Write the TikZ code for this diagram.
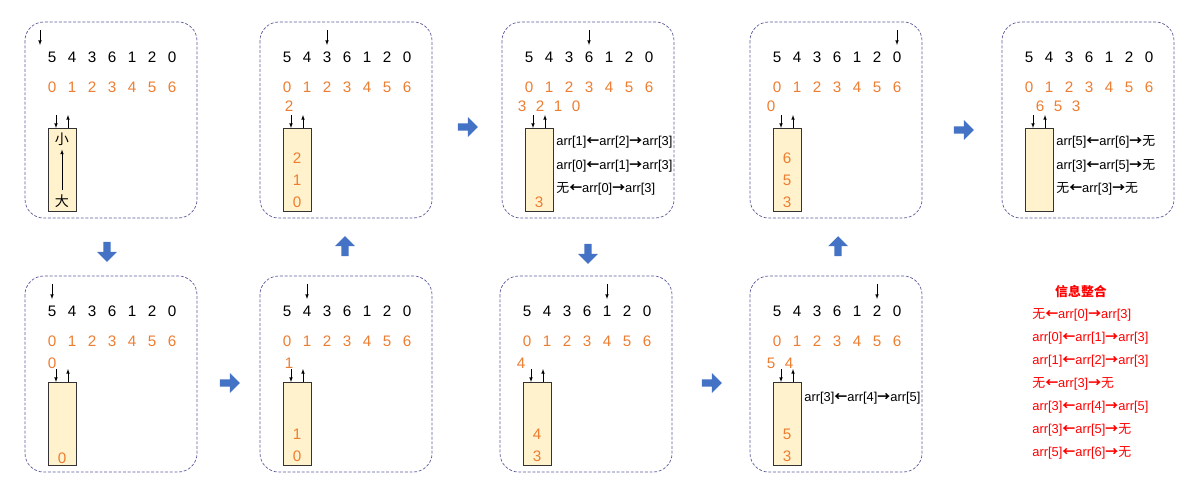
\documentclass[tikz,border=0pt]{standalone}
\usepackage{fontspec}
\setmainfont{Liberation Sans}
\newfontfamily\cjk{Noto Sans CJK SC}
\usetikzlibrary{shapes.arrows}
\definecolor{idxorange}{HTML}{ED7D31}
\definecolor{framegray}{HTML}{5A5A9C}
\definecolor{stackfill}{HTML}{FFF2CC}
\definecolor{stepblue}{HTML}{4472C4}
\newcommand{\la}{{\cjk\bfseries ←}}
\newcommand{\ra}{{\cjk\bfseries →}}
\newcommand{\wu}{{\cjk 无}}
\tikzset{
  frame/.style={draw=framegray, semithick, dash pattern=on 2.5pt off 1.5pt, rounded corners=16pt},
  val/.style={font=\fontsize{13}{15}\selectfont, inner sep=1pt},
  idx/.style={val, text=idxorange},
  stack/.style={draw=black!80, fill=stackfill, minimum width=24pt, minimum height=71pt, anchor=north west, inner sep=0pt},
  info/.style={font=\fontsize{11}{13}\selectfont, anchor=west, inner sep=1pt},
  steparrow/.style={single arrow, fill=stepblue, draw=none, minimum height=17pt, minimum width=17pt,
    single arrow head extend=3pt, inner sep=1.5pt},
  ptr/.style={-latex, thin}
}
% one panel: name, left, top, pointer index
\newcommand{\panel}[4]{
  \draw[frame] (#2,#3) rectangle ++(172,196);
  \foreach \v [count=\i from 0] in {5,4,3,6,1,2,0}
    \node[val] (#1v\i) at (#2+27+20*\i,#3+35) {\v};
  \foreach \i in {0,...,6}
    \node[idx] (#1i\i) at (#2+27+20*\i,#3+65) {\i};
  \node[stack] (#1s) at (#2+23,#3+106) {};
  \coordinate (#1p1) at (#2+27+20*#4,#3+8);
  \coordinate (#1p2) at (#2+27+20*#4,#3+23);
  \coordinate (#1a1) at (#2+31,#3+93);
  \coordinate (#1a2) at (#2+43,#3+93);
  \draw[ptr] (#1a1) -- (#1a1 |- #1s.north);
  \draw[ptr] (#1a2 |- #1s.north) -- (#1a2);
}
\begin{document}
\begin{tikzpicture}[x=0.03cm,y=-0.03cm]
\useasboundingbox (0,0) rectangle (1200,504);

% top row
\panel{A}{25}{22}{-0.6}
\draw[ptr] (Ap1) -- (Ap2);
\node[font=\cjk\fontsize{12}{14}\selectfont] (Asmall) at (62,139) {小};
\node[font=\cjk\fontsize{12}{14}\selectfont] (Abig) at (62,201) {大};
\draw[-latex] (Abig) -- (Asmall);

\panel{B}{260}{22}{2}
\draw[ptr] (Bp1) -- (Bp2);
\node[idx] (Bl0) at (289,106) {2};
\foreach \v/\y in {2/158,1/180,0/202} \node[idx] (Bc\v) at (297,\y) {\v};

\panel{C}{502}{22}{3}
\draw[ptr] (Cp1) -- (Cp2);
\foreach \v/\x in {3/522,2/540,1/558,0/576} \node[idx] (Cl\v) at (\x,106) {\v};
\node[idx] (Cc3) at (539,202) {3};
\node[info] (Ct1) at (555,142) {arr[1]\la arr[2]\ra arr[3]};
\node[info] (Ct2) at (555,166) {arr[0]\la arr[1]\ra arr[3]};
\node[info] (Ct3) at (555,189) {\wu\la arr[0]\ra arr[3]};

\panel{D}{750}{22}{6}
\draw[ptr] (Dp1) -- (Dp2);
\node[idx] (Dl0) at (771,106) {0};
\foreach \v/\y in {6/158,5/180,3/202} \node[idx] (Dc\v) at (787,\y) {\v};

\panel{E}{1002}{22}{0}
\foreach \v/\x in {6/1040,5/1058,3/1076} \node[idx] (El\v) at (\x,106) {\v};
\node[info] (Et1) at (1055,142) {arr[5]\la arr[6]\ra\wu};
\node[info] (Et2) at (1055,166) {arr[3]\la arr[5]\ra\wu};
\node[info] (Et3) at (1055,189) {\wu\la arr[3]\ra\wu};

% bottom row
\panel{F}{25}{276}{0}
\draw[ptr] (Fp1) -- (Fp2);
\node[idx] (Fl0) at (52,363) {0};
\node[idx] (Fc0) at (62,458) {0};

\panel{G}{260}{276}{1}
\draw[ptr] (Gp1) -- (Gp2);
\node[idx] (Gl1) at (289,363) {1};
\foreach \v/\y in {1/434,0/456} \node[idx] (Gc\v) at (297,\y) {\v};

\panel{H}{500}{276}{4}
\draw[ptr] (Hp1) -- (Hp2);
\node[idx] (Hl4) at (521,363) {4};
\foreach \v/\y in {4/434,3/456} \node[idx] (Hc\v) at (537,\y) {\v};

\panel{K}{750}{276}{5}
\draw[ptr] (Kp1) -- (Kp2);
\foreach \v/\x in {5/771,4/789} \node[idx] (Kl\v) at (\x,363) {\v};
\foreach \v/\y in {5/434,3/456} \node[idx] (Kc\v) at (787,\y) {\v};
\node[info] (Kt1) at (803,398) {arr[3]\la arr[4]\ra arr[5]};

% step arrows
\node[steparrow, rotate=-90] (s1) at (107,250) {};
\node[steparrow] (s2) at (228,383) {};
\node[steparrow, rotate=90] (s3) at (345,248) {};
\node[steparrow] (s4) at (466,127) {};
\node[steparrow, rotate=-90] (s5) at (588,252) {};
\node[steparrow] (s6) at (710,383) {};
\node[steparrow, rotate=90] (s7) at (838,248) {};
\node[steparrow] (s8) at (962,130) {};

% summary
\node[font=\cjk\bfseries\fontsize{11}{13}\selectfont, text=red] (sum) at (1081,292) {信息整合};
\foreach \t [count=\k from 0] in {
  {\wu\la arr[0]\ra arr[3]},
  {arr[0]\la arr[1]\ra arr[3]},
  {arr[1]\la arr[2]\ra arr[3]},
  {\wu\la arr[3]\ra\wu},
  {arr[3]\la arr[4]\ra arr[5]},
  {arr[3]\la arr[5]\ra\wu},
  {arr[5]\la arr[6]\ra\wu}}
  \node[info, text=red] (sum\k) at (1031,315+23*\k) {\t};
\end{tikzpicture}
\end{document}
